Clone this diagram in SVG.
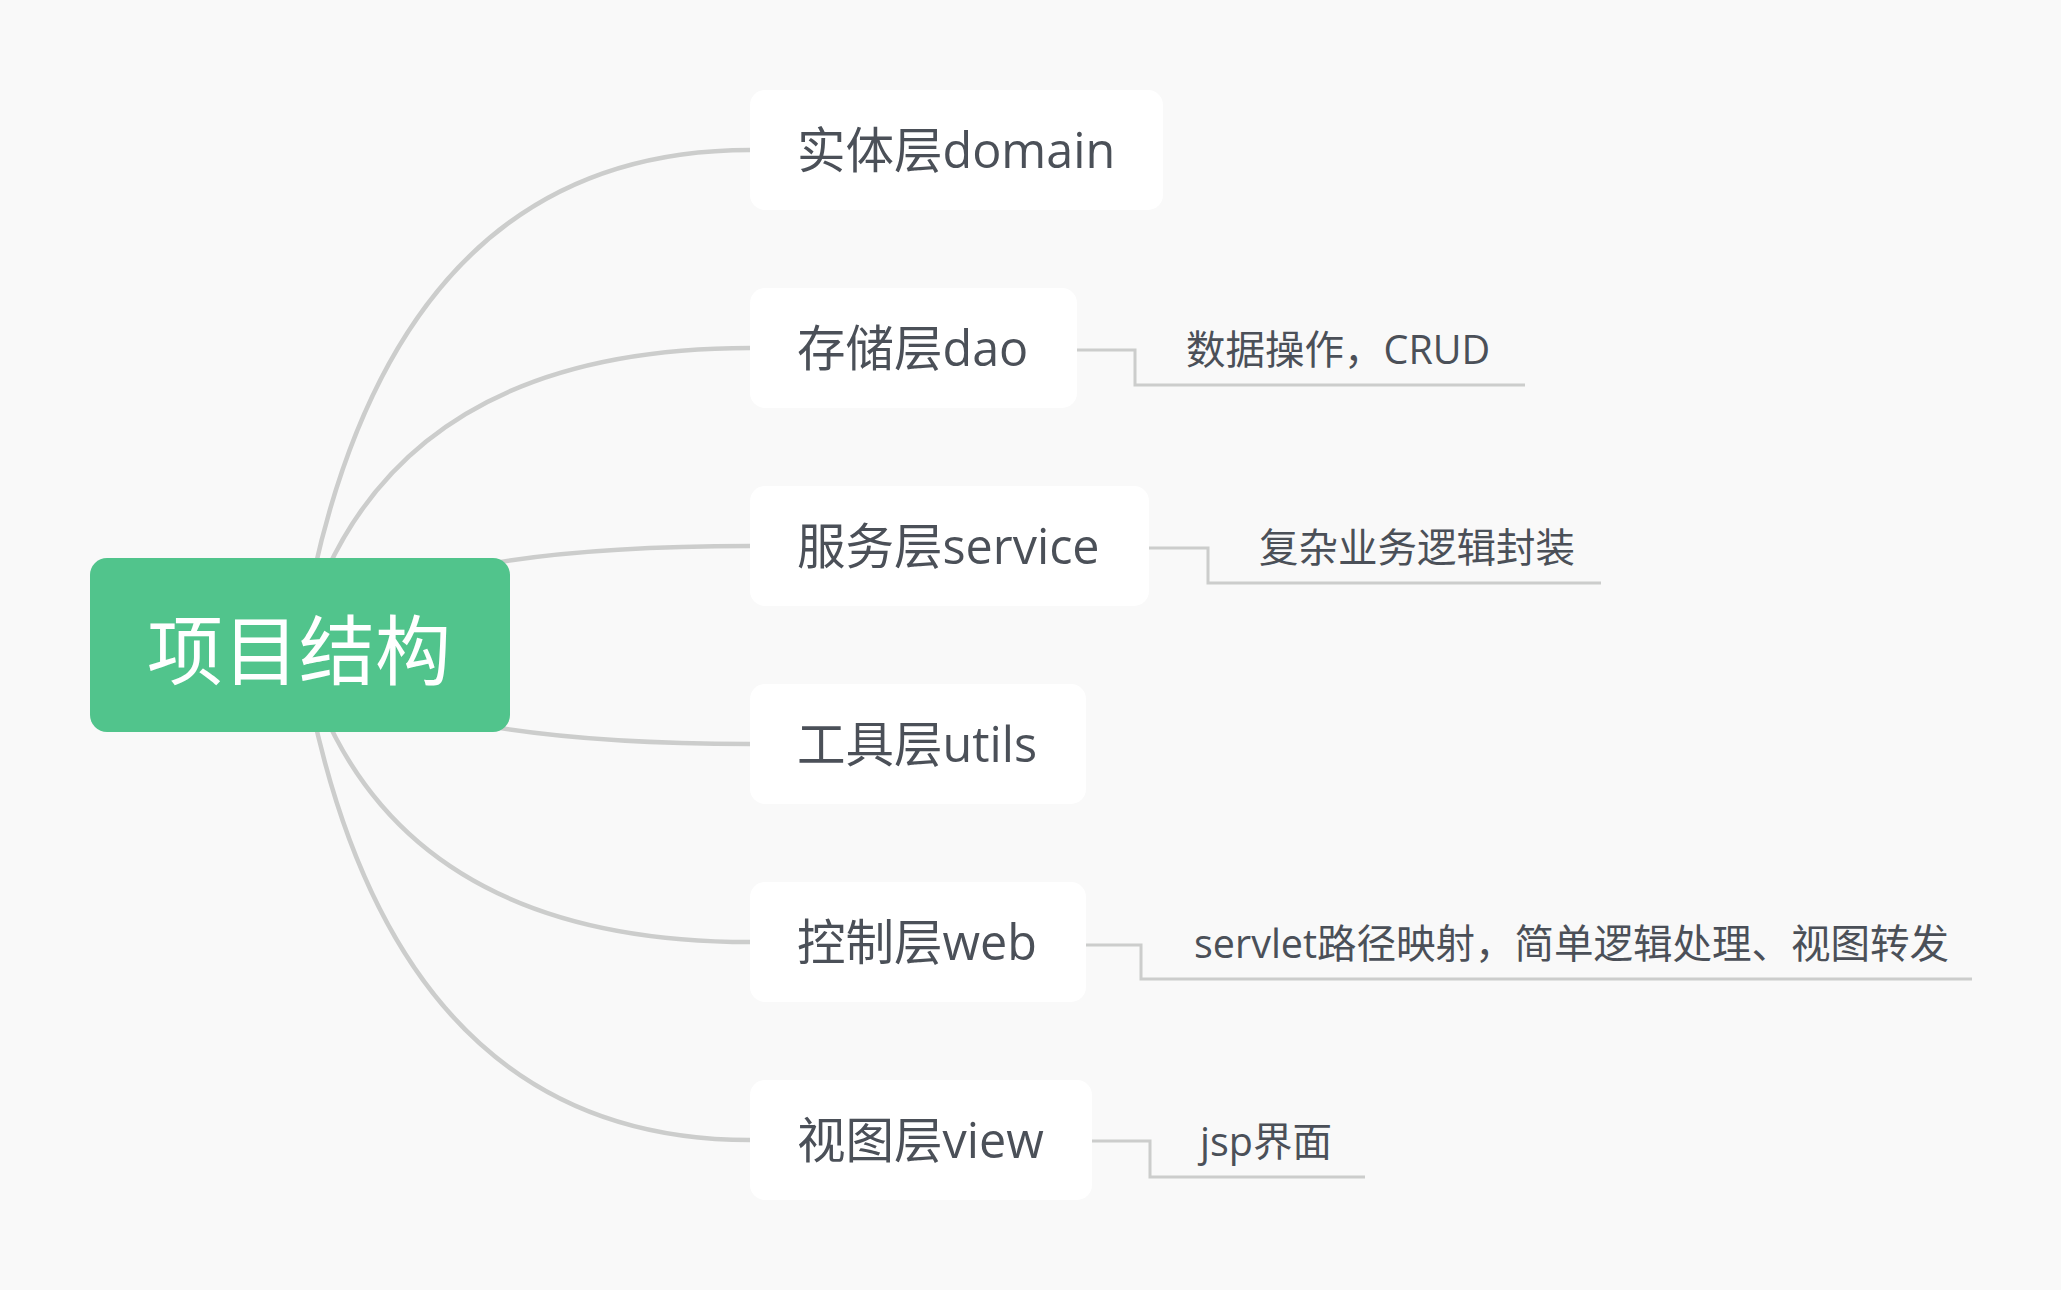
<svg xmlns="http://www.w3.org/2000/svg" width="2061" height="1290" viewBox="0 0 2061 1290">
<style>
.curve{fill:none;stroke:#cccdcc;stroke-width:4.5;stroke-linecap:round}
.elbow{fill:none;stroke:#cccdcc;stroke-width:3}
.box{fill:#ffffff}
.ntext{font-family:"Open Sans","Noto Sans CJK SC",sans-serif;font-size:48.5px;fill:#4b5058}
.dtext{font-family:"Open Sans","Noto Sans CJK SC",sans-serif;font-size:39.5px;fill:#4b5058}
.rtext{font-family:"Noto Sans CJK SC",sans-serif;font-size:76px;fill:#ffffff}
</style>
<rect width="2061" height="1290" fill="#f9f9f9"/>
<g id="connectors">
<path class="curve" d="M300 645 Q380 150 750 150"/>
<path class="curve" d="M300 645 Q380 348 750 348"/>
<path class="curve" d="M300 645 Q380 546 750 546"/>
<path class="curve" d="M300 645 Q380 744 750 744"/>
<path class="curve" d="M300 645 Q380 942 750 942"/>
<path class="curve" d="M300 645 Q380 1140 750 1140"/>
<path class="elbow" d="M1077 350 H1135 V385 H1525"/>
<path class="elbow" d="M1149 548 H1208 V583 H1601"/>
<path class="elbow" d="M1086 945 H1141 V979 H1972"/>
<path class="elbow" d="M1092 1141 H1150 V1177 H1365"/>
</g>
<g id="root">
<rect x="90" y="558" width="420" height="174" rx="17" fill="#51c48c"/>
<text class="rtext" x="299" y="679" text-anchor="middle">项目结构</text>
</g>
<g id="node-domain">
<rect class="box" x="750" y="90" width="413" height="120" rx="15"/>
<text class="ntext" x="797" y="168">实体层domain</text>
</g>
<g id="node-dao">
<rect class="box" x="750" y="288" width="327" height="120" rx="15"/>
<text class="ntext" x="797" y="366">存储层dao</text>
</g>
<g id="node-service">
<rect class="box" x="750" y="486" width="399" height="120" rx="15"/>
<text class="ntext" x="797" y="564">服务层service</text>
</g>
<g id="node-utils">
<rect class="box" x="750" y="684" width="336" height="120" rx="15"/>
<text class="ntext" x="797" y="762">工具层utils</text>
</g>
<g id="node-web">
<rect class="box" x="750" y="882" width="336" height="120" rx="15"/>
<text class="ntext" x="797" y="960">控制层web</text>
</g>
<g id="node-view">
<rect class="box" x="750" y="1080" width="342" height="120" rx="15"/>
<text class="ntext" x="797" y="1158">视图层view</text>
</g>
<g id="detail-dao">
<text class="dtext" x="1186" y="364">数据操作，CRUD</text>
</g>
<g id="detail-service">
<text class="dtext" x="1259" y="562">复杂业务逻辑封装</text>
</g>
<g id="detail-web">
<text class="dtext" x="1194" y="958">servlet路径映射，简单逻辑处理、视图转发</text>
</g>
<g id="detail-view">
<text class="dtext" x="1200" y="1156">jsp界面</text>
</g>
</svg>
